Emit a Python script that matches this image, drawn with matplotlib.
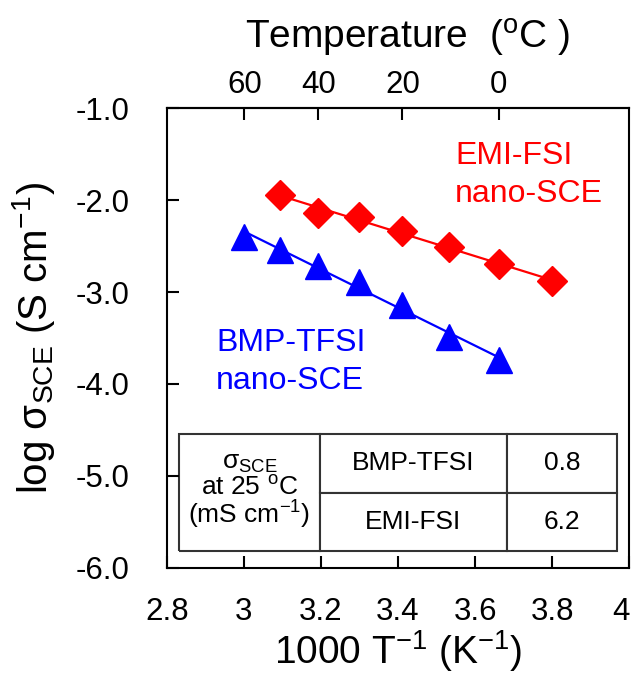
import numpy as np
import matplotlib
matplotlib.use("Agg")
import matplotlib.pyplot as plt

plt.rcParams['font.family'] = ['Liberation Sans', 'DejaVu Sans']
plt.rcParams['mathtext.fontset'] = 'custom'
plt.rcParams['mathtext.rm'] = 'Liberation Sans'
plt.rcParams['mathtext.it'] = 'Liberation Sans:italic'
plt.rcParams['mathtext.default'] = 'regular'

# measurement temperatures (deg C) and log conductivity (S cm-1)
temp_emi = [50, 40, 30, 20, 10, 0, -10]
logsig_emi = [-1.94, -2.14, -2.18, -2.34, -2.51, -2.70, -2.88]
temp_bmp = [60, 50, 40, 30, 20, 10, 0]
logsig_bmp = [-2.40, -2.54, -2.72, -2.89, -3.14, -3.49, -3.74]

xticks = [2.8, 3.0, 3.2, 3.4, 3.6, 3.8, 4.0]
xtick_labels = ['2.8', '3', '3.2', '3.4', '3.6', '3.8', '4']
yticks = [-1.0, -2.0, -3.0, -4.0, -5.0, -6.0]
ytick_labels = ['-1.0', '-2.0', '-3.0', '-4.0', '-5.0', '-6.0']
temp_ticks = [60, 40, 20, 0]

# conductivity at 25 C (mS cm-1)
table_names = ['BMP-TFSI', 'EMI-FSI']
table_values = ['0.8', '6.2']

RED = '#ff0000'
BLUE = '#0000ff'


def inv_t(t):
    return 1000.0 / (np.asarray(t, dtype=float) + 273.15)


def to_celsius(x):
    x = np.asarray(x, dtype=float)
    with np.errstate(divide='ignore'):
        return 1000.0 / x - 273.15


fig = plt.figure(figsize=(6.36, 6.75), dpi=100)
ax = fig.add_axes([0.2621, 0.1590, 0.7274, 0.6806])

x_emi = inv_t(temp_emi)
x_bmp = inv_t(temp_bmp)

# Arrhenius fits drawn under the markers
for x, y, c in [(x_emi, logsig_emi, RED), (x_bmp, logsig_bmp, BLUE)]:
    k, b = np.polyfit(x, y, 1)
    xx = np.array([x.min(), x.max()])
    ax.plot(xx, k * xx + b, '-', color=c, lw=1.6, zorder=2)

ax.plot(x_emi, logsig_emi, 'D', ms=15.5, color=RED, mec=RED, zorder=3)
ax.plot(x_bmp, logsig_bmp, '^', ms=19, color=BLUE, mec=BLUE, zorder=3)

ax.set_xlim(2.8, 4.0)
ax.set_ylim(-6.0, -1.0)
ax.set_xticks(xticks, xtick_labels)
ax.set_yticks(yticks, ytick_labels)
ax.tick_params(direction='in', length=8.6, width=1.5, labelsize=22.5,
               top=False, right=False)
ax.tick_params(axis='x', pad=21)
ax.tick_params(axis='y', pad=27)
# keep the last label inside the figure edge
ax.get_xticklabels()[-1].set_horizontalalignment('right')
for sp in ax.spines.values():
    sp.set_linewidth(1.5)

ax.set_xlabel('1000 T$^{-1}$ (K$^{-1}$)', fontsize=28, labelpad=1)
ax.set_ylabel(r'log $\sigma_{SCE}$ (S cm$^{-1}$)', fontsize=29, labelpad=13)

# temperature scale on top
sec = ax.secondary_xaxis('top', functions=(to_celsius, inv_t))
sec.set_xticks(temp_ticks)
sec.tick_params(direction='in', length=8.6, width=1.5, labelsize=22.5, pad=6)
sec.spines['top'].set_linewidth(1.5)
sec.set_xlabel('Temperature  ($^{o}$C )', fontsize=28, labelpad=15, x=0.52)

ax.text(0.623, 0.855, 'EMI-FSI\nnano-SCE', color=RED, fontsize=23,
        ha='left', va='center', linespacing=1.32, transform=ax.transAxes)
ax.text(0.107, 0.448, 'BMP-TFSI\nnano-SCE', color=BLUE, fontsize=23,
        ha='left', va='center', linespacing=1.32, transform=ax.transAxes)

# summary table
tab = ax.table(cellText=[['', n, v] for n, v in zip(table_names, table_values)],
               colWidths=[0.304, 0.404, 0.239], cellLoc='center',
               bbox=[0.027, 0.036, 0.947, 0.255])
tab.auto_set_font_size(False)
tab.set_fontsize(19)
for (r, c), cell in tab.get_celld().items():
    cell.set_linewidth(1.5)
    cell.set_edgecolor('#333333')
    if c == 0:
        cell.visible_edges = 'LTR' if r == 0 else 'LBR'

cx = 0.179
ax.text(cx, 0.228, r'$\sigma_{SCE}$', fontsize=19, ha='center', va='center',
        transform=ax.transAxes)
ax.text(cx, 0.1735, 'at 25 $^{o}$C', fontsize=19, ha='center', va='center',
        transform=ax.transAxes)
ax.text(cx, 0.1147, '(mS cm$^{-1}$)', fontsize=19, ha='center', va='center',
        transform=ax.transAxes)

fig.savefig('out.png', dpi=100)
